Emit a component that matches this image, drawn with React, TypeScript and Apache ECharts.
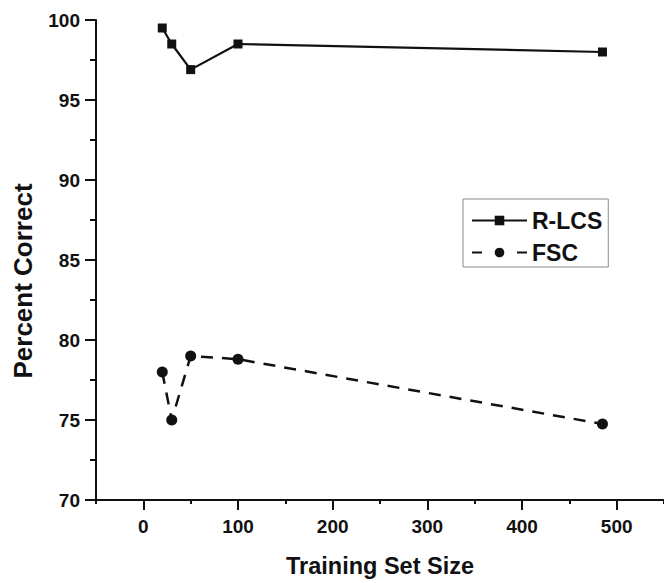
import React, { useEffect, useRef } from "react";
import * as echarts from "echarts";

const trainingSizes = [20, 30, 50, 100, 485];
const rlcsValues = [99.5, 98.5, 96.9, 98.5, 98.0];
const fscValues = [78.0, 75.0, 79.0, 78.8, 74.75];
const xLabelValues = [0, 100, 200, 300, 400, 500];
const seriesNames = ["R-LCS", "FSC"];
const xTitle = "Training Set Size";
const yTitle = "Percent Correct";

const FONT = "'Liberation Sans', Arial, Helvetica, sans-serif";
const INK = "#111";

export default function App() {
  const ref = useRef<HTMLDivElement>(null);
  useEffect(() => {
    if (!ref.current) return;
    const chart = echarts.init(ref.current, null, { renderer: "svg" });
    const axisLineStyle = { color: INK, width: 2 };
    chart.setOption({
      animation: false,
      backgroundColor: "#fff",
      grid: { left: 96, right: -6, top: 20, bottom: 81, containLabel: false },
      legend: {
        left: 463,
        top: 199,
        orient: "vertical",
        data: [
          { name: seriesNames[0] },
          { name: seriesNames[1], lineStyle: { type: [10, 35] } },
        ],
        itemWidth: 55,
        itemHeight: 12,
        itemGap: 9,
        padding: [10, 6, 3, 8],
        borderColor: "#8a8a8a",
        borderWidth: 1,
        backgroundColor: "#fff",
        textStyle: { fontFamily: FONT, fontWeight: "bold", fontSize: 23, color: INK },
      },
      graphic: [
        {
          type: "text",
          x: 23,
          y: 281,
          rotation: Math.PI / 2,
          style: {
            text: yTitle,
            align: "center",
            verticalAlign: "middle",
            fontFamily: FONT,
            fontWeight: "bold",
            fontSize: 26,
            fill: INK,
          },
        },
      ],
      xAxis: [
        {
          type: "value",
          min: -50,
          max: 550,
          interval: 50,
          position: "bottom",
          axisLine: { show: true, onZero: false, lineStyle: axisLineStyle },
          axisTick: { show: true, length: 4, lineStyle: axisLineStyle },
          axisLabel: { show: false },
          splitLine: { show: false },
          name: xTitle,
          nameLocation: "middle",
          nameGap: 54,
          nameTextStyle: { fontFamily: FONT, fontWeight: "bold", fontSize: 23.5, color: INK },
        },
        {
          type: "value",
          min: -50,
          max: 550,
          position: "bottom",
          axisLine: { show: false, onZero: false },
          axisTick: { show: true, length: 10, customValues: xLabelValues, lineStyle: axisLineStyle },
          axisLabel: {
            show: true,
            customValues: xLabelValues,
            margin: 17,
            fontFamily: FONT,
            fontWeight: "bold",
            fontSize: 19,
            color: INK,
          },
          splitLine: { show: false },
        },
      ],
      yAxis: {
        type: "value",
        min: 70,
        max: 100,
        interval: 5,
        axisLine: { show: true, onZero: false, lineStyle: axisLineStyle },
        axisTick: { show: true, length: 11, lineStyle: axisLineStyle },
        minorTick: { show: true, splitNumber: 2, length: 6, lineStyle: axisLineStyle },
        axisLabel: { margin: 16, fontFamily: FONT, fontWeight: "bold", fontSize: 19, color: INK },
        splitLine: { show: false },
      },
      series: [
        {
          name: seriesNames[0],
          type: "line",
          xAxisIndex: 0,
          data: trainingSizes.map((x, i) => [x, rlcsValues[i]]),
          symbol: "rect",
          symbolSize: 9,
          itemStyle: { color: INK },
          lineStyle: { color: INK, width: 2.2, type: "solid" },
        },
        {
          name: seriesNames[1],
          type: "line",
          xAxisIndex: 0,
          data: trainingSizes.map((x, i) => [x, fscValues[i]]),
          symbol: "circle",
          symbolSize: 11,
          itemStyle: { color: INK },
          lineStyle: { color: INK, width: 2.5, type: [12, 9] },
        },
      ],
    });
    return () => chart.dispose();
  }, []);
  return (
    <div
      ref={ref}
      style={{ position: "fixed", left: 0, top: 0, width: 664, height: 583, background: "#fff" }}
    />
  );
}
